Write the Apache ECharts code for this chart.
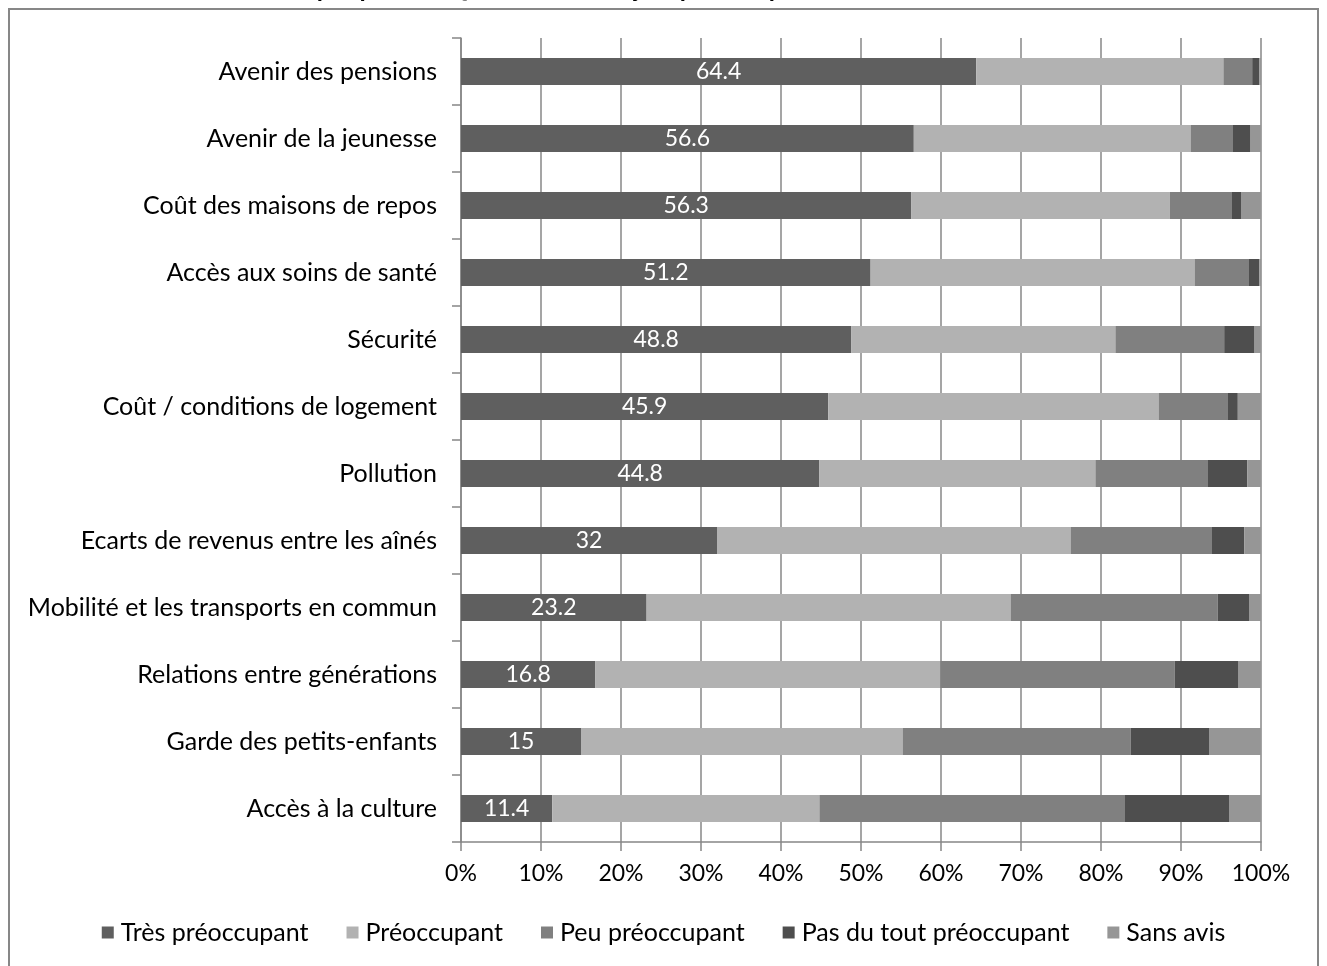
<!DOCTYPE html>
<html>
<head>
<meta charset="utf-8">
<script src="https://cdn.jsdelivr.net/npm/echarts@6/dist/echarts.min.js"></script>
<style>
  html, body { margin: 0; padding: 0; background: #fff; }
  #chart { width: 1327px; height: 966px; }
</style>
</head>
<body>
<div id="chart"></div>
<script>
const categories = [
  'Avenir des pensions',
  'Avenir de la jeunesse',
  'Coût des maisons de repos',
  'Accès aux soins de santé',
  'Sécurité',
  'Coût / conditions de logement',
  'Pollution',
  'Ecarts de revenus entre les aînés',
  'Mobilité et les transports en commun',
  'Relations entre générations',
  'Garde des petits-enfants',
  'Accès à la culture'
]

const tresPreoccupant = [64.4, 56.6, 56.3, 51.2, 48.8, 45.9, 44.8, 32, 23.2, 16.8, 15, 11.4]
const preoccupant = [30.9, 34.6, 32.3, 40.5, 33.0, 41.3, 34.5, 44.2, 45.5, 43.1, 40.2, 33.4]
const peuPreoccupant = [3.6, 5.3, 7.7, 6.8, 13.6, 8.6, 14.0, 17.6, 25.9, 29.3, 28.5, 38.2]
const pasDuTout = [0.9, 2.2, 1.2, 1.3, 3.8, 1.3, 5.0, 4.1, 3.9, 8.0, 9.8, 13.0]
const sansAvis = [0.2, 1.3, 2.5, 0.2, 0.8, 2.9, 1.7, 2.1, 1.5, 2.8, 6.5, 4.0]

const seriesNames = ['Très préoccupant', 'Préoccupant', 'Peu préoccupant', 'Pas du tout préoccupant', 'Sans avis']
const seriesColors = ['#5f5f5f', '#b2b2b2', '#808080', '#4e4e4e', '#969696']
const seriesData = [tresPreoccupant, preoccupant, peuPreoccupant, pasDuTout, sansAvis]

const font = 'Lato'
const gridColor = '#878787'

const chart = echarts.init(document.getElementById('chart'))

const option = {
  backgroundColor: '#fff',
  animation: false,
  textStyle: { fontFamily: font },
  title: {
    text: 'Graphique 11 : Quels sont les sujets préoccupants ?',
    left: 272,
    top: -29,
    textStyle: { fontFamily: font, fontSize: 25, fontWeight: 'bold', color: '#000' }
  },
  graphic: [{
    type: 'rect',
    shape: { x: 9, y: 9, width: 1309, height: 1000 },
    style: { fill: 'none', stroke: gridColor, lineWidth: 2 },
    silent: true
  }],
  legend: {
    bottom: 16,
    left: 'center',
    itemWidth: 12,
    itemHeight: 12,
    itemGap: 38,
    icon: 'rect',
    textStyle: { fontFamily: font, fontSize: 25, color: '#000', padding: [0, 0, 0, 2] },
    data: seriesNames
  },
  grid: { left: 461, right: 66, top: 38, bottom: 124 },
  xAxis: {
    type: 'value',
    min: 0,
    max: 100,
    interval: 10,
    axisLine: { show: true, lineStyle: { color: gridColor, width: 1.5 } },
    axisTick: { show: true, length: 9, lineStyle: { color: gridColor, width: 1.5 } },
    axisLabel: { formatter: '{value}%', color: '#000', fontSize: 23, margin: 20, fontFamily: font },
    splitLine: { show: true, lineStyle: { color: gridColor, width: 1.5 } }
  },
  yAxis: {
    type: 'category',
    inverse: true,
    data: categories,
    axisLine: { show: true, lineStyle: { color: gridColor, width: 1.5 } },
    axisTick: { show: true, length: 9, lineStyle: { color: gridColor, width: 1.5 } },
    axisLabel: { color: '#000', fontSize: 25, margin: 24, fontFamily: font }
  },
  series: seriesData.map((values, i) => ({
    name: seriesNames[i],
    type: 'bar',
    stack: 'total',
    barWidth: 27,
    itemStyle: { color: seriesColors[i] },
    label: i === 0 ? {
      show: true,
      position: 'inside',
      color: '#fff',
      fontSize: 23,
      fontFamily: font
    } : { show: false },
    data: values
  }))
}

chart.setOption(option)
</script>
</body>
</html>
